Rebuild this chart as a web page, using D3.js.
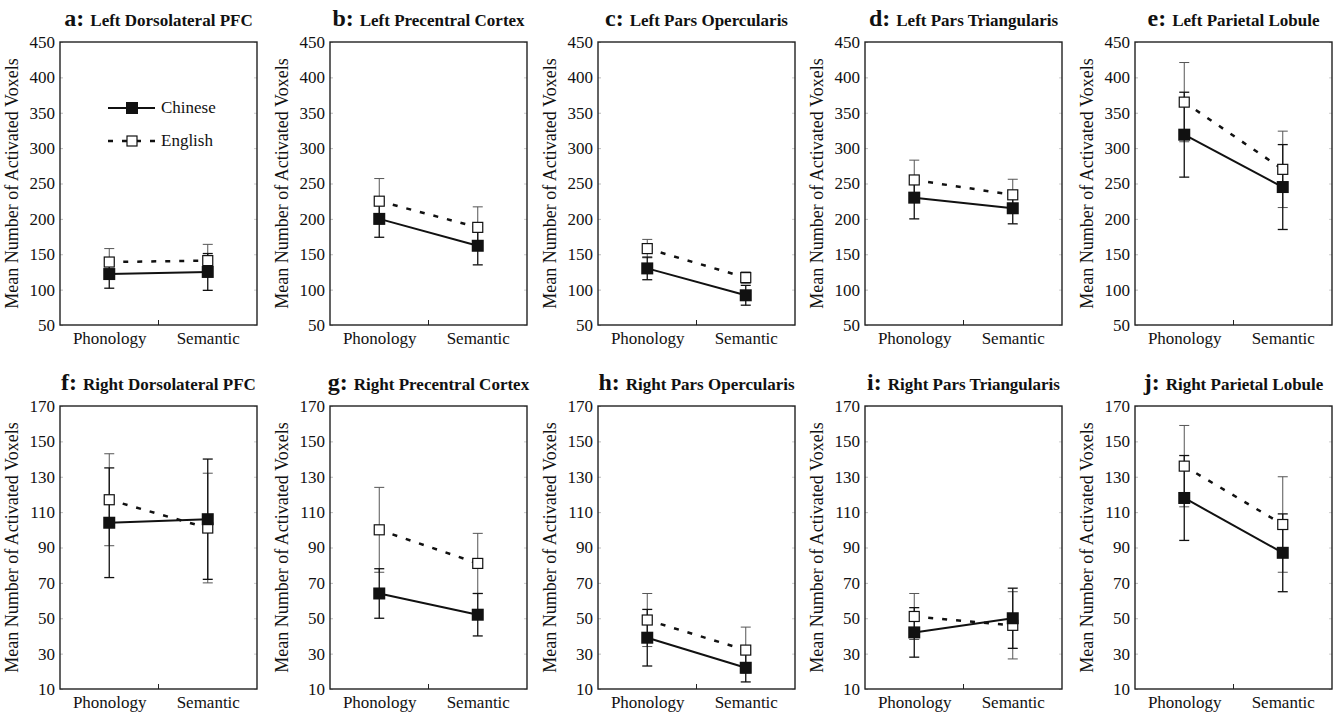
<!DOCTYPE html>
<html>
<head>
<meta charset="utf-8">
<script src="https://cdn.jsdelivr.net/npm/d3@7"></script>
<style>
  body { margin: 0; background: #fff; }
</style>
</head>
<body>
<div id="chart"></div>
<script>
// Categories on the x axis
const categories = ["Phonology", "Semantic"];

// Panel letters and titles
const panelLetters = ["a", "b", "c", "d", "e", "f", "g", "h", "i", "j"];
const panelTitles = [
    "Left Dorsolateral PFC", "Left Precentral Cortex", "Left Pars Opercularis",
    "Left Pars Triangularis", "Left Parietal Lobule",
    "Right Dorsolateral PFC", "Right Precentral Cortex", "Right Pars Opercularis",
    "Right Pars Triangularis", "Right Parietal Lobule"
];

// Mean values (Phonology, Semantic) for each panel
const chineseMeans = [[122, 125], [200, 162], [130, 92], [230, 215], [319, 245],
                      [104, 106], [64, 52], [39, 22], [42, 50], [118, 87]];
const englishMeans = [[139, 141], [225, 188], [158, 117], [255, 234], [365, 270],
                      [117, 101], [100, 81], [49, 32], [51, 46], [136, 103]];

// Error bar half lengths
const chineseErrors = [[20, 26], [26, 27], [16, 14], [30, 22], [60, 60],
                       [31, 34], [14, 12], [16, 8], [14, 17], [24, 22]];
const englishErrors = [[19, 23], [32, 29], [13, 8], [28, 22], [56, 54],
                       [26, 31], [24, 17], [15, 13], [13, 19], [23, 27]];

// Tick values for the two rows
const topTicks = [50, 100, 150, 200, 250, 300, 350, 400, 450];
const bottomTicks = [10, 30, 50, 70, 90, 110, 130, 150, 170];

const legendLabels = ["Chinese", "English"];

// Layout
const width = 1335, height = 714;
const panelLefts = [60, 330, 598, 865, 1135];
const panelWidth = 197;
const rowTops = [42, 406];
const panelHeight = 283;
const serif = '"Liberation Serif", "Times New Roman", Times, serif';

const svg = d3.select("#chart").append("svg")
    .attr("width", width)
    .attr("height", height);

panelTitles.forEach((title, i) => {
    const row = i < 5 ? 0 : 1;
    const col = i % 5;
    const ticks = row === 0 ? topTicks : bottomTicks;

    const g = svg.append("g")
        .attr("transform", `translate(${panelLefts[col]},${rowTops[row]})`);

    const x = d3.scalePoint()
        .domain(categories)
        .range([0, panelWidth])
        .padding(0.5);

    const y = d3.scaleLinear()
        .domain([ticks[0], ticks[ticks.length - 1]])
        .range([panelHeight, 0]);

    // Y axis with small inward ticks
    const yAxis = g.append("g")
        .call(d3.axisLeft(y).tickValues(ticks).tickSize(-3).tickPadding(5));
    yAxis.select(".domain").remove();
    yAxis.selectAll("line").attr("stroke", "#bbb");
    yAxis.selectAll("text")
        .style("font-family", serif)
        .style("font-size", "17px")
        .attr("fill", "#111");

    // faint ticks on the right side too
    g.append("g")
        .attr("transform", `translate(${panelWidth},0)`)
        .call(d3.axisRight(y).tickValues(ticks).tickSize(-3).tickFormat(""))
        .call(a => a.select(".domain").remove())
        .selectAll("line").attr("stroke", "#ccc");

    // X axis labels
    const xAxis = g.append("g")
        .attr("transform", `translate(0,${panelHeight})`)
        .call(d3.axisBottom(x).tickSize(0).tickPadding(7));
    xAxis.select(".domain").remove();
    xAxis.selectAll("text")
        .style("font-family", serif)
        .style("font-size", "17px")
        .attr("fill", "#111");

    // middle tick on the x axis
    g.append("line")
        .attr("x1", panelWidth / 2).attr("x2", panelWidth / 2)
        .attr("y1", panelHeight).attr("y2", panelHeight - 5)
        .attr("stroke", "#222").attr("stroke-width", 1);

    // Frame
    g.append("rect")
        .attr("width", panelWidth)
        .attr("height", panelHeight)
        .attr("fill", "none")
        .attr("stroke", "#222")
        .attr("stroke-width", 1.4);

    // Y label
    g.append("text")
        .attr("transform", `translate(${-42},${panelHeight / 2}) rotate(-90)`)
        .attr("text-anchor", "middle")
        .style("font-family", serif)
        .style("font-size", "18px")
        .attr("fill", "#111")
        .text("Mean Number of Activated Voxels");

    // Title
    const t = g.append("text")
        .attr("x", panelWidth / 2)
        .attr("y", -16)
        .attr("text-anchor", "middle")
        .style("font-family", serif)
        .style("font-weight", "bold")
        .attr("fill", "#111");
    t.append("tspan").style("font-size", "24px").text(panelLetters[i] + ": ");
    t.append("tspan").style("font-size", "17px").text(title);

    const line = d3.line()
        .x((d, k) => x(categories[k]))
        .y(d => y(d));

    // Error bars
    const drawErrors = (means, errs, color, sw) => {
        means.forEach((m, k) => {
            const cx = x(categories[k]);
            const lo = y(m - errs[k]), hi = y(m + errs[k]);
            g.append("line")
                .attr("x1", cx).attr("x2", cx).attr("y1", lo).attr("y2", hi)
                .attr("stroke", color).attr("stroke-width", sw);
            [lo, hi].forEach(yy => {
                g.append("line")
                    .attr("x1", cx - 5).attr("x2", cx + 5).attr("y1", yy).attr("y2", yy)
                    .attr("stroke", color).attr("stroke-width", sw);
            });
        });
    };
    drawErrors(englishMeans[i], englishErrors[i], "#555", 1);
    drawErrors(chineseMeans[i], chineseErrors[i], "#111", 1.3);

    // English dashed line
    g.append("path")
        .datum(englishMeans[i])
        .attr("d", line)
        .attr("fill", "none")
        .attr("stroke", "#111")
        .attr("stroke-width", 2.5)
        .attr("stroke-dasharray", "5,9");

    // Chinese solid line
    g.append("path")
        .datum(chineseMeans[i])
        .attr("d", line)
        .attr("fill", "none")
        .attr("stroke", "#111")
        .attr("stroke-width", 2);

    // English markers
    g.selectAll(".eng")
        .data(englishMeans[i])
        .enter()
        .append("rect")
        .attr("x", (d, k) => x(categories[k]) - 5)
        .attr("y", d => y(d) - 5)
        .attr("width", 10).attr("height", 10)
        .attr("fill", "#fff")
        .attr("stroke", "#111")
        .attr("stroke-width", 1.2);

    // Chinese markers
    g.selectAll(".chn")
        .data(chineseMeans[i])
        .enter()
        .append("rect")
        .attr("x", (d, k) => x(categories[k]) - 6)
        .attr("y", d => y(d) - 6)
        .attr("width", 12).attr("height", 12)
        .attr("fill", "#111");

    // Legend in the first panel
    if (i === 0) {
        const lg = g.append("g").attr("transform", "translate(48,66)");
        lg.append("line").attr("x1", 0).attr("x2", 47).attr("y1", 0).attr("y2", 0)
            .attr("stroke", "#111").attr("stroke-width", 2);
        lg.append("rect").attr("x", 18).attr("y", -6).attr("width", 12).attr("height", 12)
            .attr("fill", "#111");
        lg.append("text").attr("x", 53).attr("y", 5)
            .style("font-family", serif).style("font-size", "17px").attr("fill", "#111")
            .text(legendLabels[0]);

        lg.append("line").attr("x1", 0).attr("x2", 47).attr("y1", 33).attr("y2", 33)
            .attr("stroke", "#111").attr("stroke-width", 2.5).attr("stroke-dasharray", "5,9");
        lg.append("rect").attr("x", 19).attr("y", 28).attr("width", 10).attr("height", 10)
            .attr("fill", "#fff").attr("stroke", "#111").attr("stroke-width", 1.2);
        lg.append("text").attr("x", 53).attr("y", 38)
            .style("font-family", serif).style("font-size", "17px").attr("fill", "#111")
            .text(legendLabels[1]);
    }
});
</script>
</body>
</html>
